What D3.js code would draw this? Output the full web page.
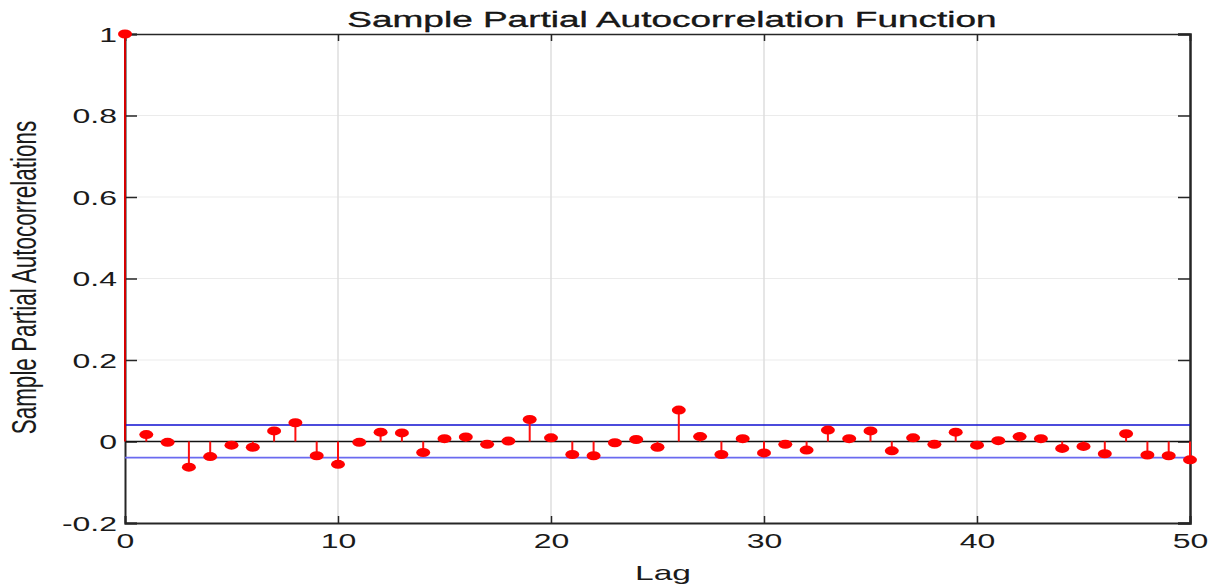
<!DOCTYPE html>
<html>
<head>
<meta charset="utf-8">
<script src="https://cdn.jsdelivr.net/npm/d3@7"></script>
<style>
  body { margin: 0; background: #fff; }
  text { font-family: "Liberation Sans", Arial, sans-serif; fill: #1a1a1a; }
</style>
</head>
<body>
<div id="chart"></div>
<script>
const WIDTH = 1224, HEIGHT = 585;
const margin = {top: 34, right: 34, bottom: 62, left: 125};
const STRETCH = 1.6; // the figure looks widened horizontally

// lags 0..50 and their partial autocorrelations
const lags = d3.range(0, 51);
const pacf = [1.0, 0.017, -0.002, -0.063, -0.037, -0.009, -0.014, 0.026, 0.046, -0.035,
  -0.056, -0.002, 0.023, 0.021, -0.027, 0.007, 0.011, -0.007, 0.001, 0.054,
  0.009, -0.032, -0.035, -0.003, 0.005, -0.014, 0.077, 0.012, -0.032, 0.007,
  -0.028, -0.007, -0.021, 0.028, 0.007, 0.026, -0.023, 0.009, -0.007, 0.023,
  -0.009, 0.002, 0.012, 0.007, -0.017, -0.012, -0.030, 0.019, -0.033, -0.035,
  -0.045];
const bounds = [0.0405, -0.0395];
const xTicks = [0, 10, 20, 30, 40, 50];
const yTicks = [-0.2, 0, 0.2, 0.4, 0.6, 0.8, 1];

const w = WIDTH - margin.left - margin.right;
const h = HEIGHT - margin.top - margin.bottom;

let svg = d3.select("#chart")
    .append("svg")
    .attr("width", WIDTH)
    .attr("height", HEIGHT)
    .append("g")
    .attr("transform", `translate(${margin.left}, ${margin.top})`);

let x = d3.scaleLinear().domain([0, 50]).range([0, w]);
let y = d3.scaleLinear().domain([-0.2, 1]).range([h, 0]);

// grid
svg.append("g").selectAll("line").data(yTicks.slice(2, 6)).enter()
    .append("line")
    .attr("x1", 0).attr("x2", w)
    .attr("y1", d => y(d)).attr("y2", d => y(d))
    .attr("stroke", "#ebebeb").attr("stroke-width", 1.2);
svg.append("g").selectAll("line").data(xTicks.slice(1, 5)).enter()
    .append("line")
    .attr("x1", d => x(d)).attr("x2", d => x(d))
    .attr("y1", 0).attr("y2", h)
    .attr("stroke", "#dedede").attr("stroke-width", 1.5);

// axes - plain hyphen for negatives like matlab
let fmt = d => String(+d.toFixed(1));
let xAxis = svg.append("g")
    .attr("transform", `translate(0, ${h})`)
    .call(d3.axisBottom(x).tickValues(xTicks).tickSize(-7).tickPadding(14).tickFormat(d => String(d)));
let xTop = svg.append("g")
    .call(d3.axisTop(x).tickValues(xTicks).tickSize(-7).tickFormat(""));
let yAxis = svg.append("g")
    .call(d3.axisLeft(y).tickValues(yTicks).tickSize(-12).tickPadding(5).tickFormat(fmt));
let yRight = svg.append("g")
    .attr("transform", `translate(${w}, 0)`)
    .call(d3.axisRight(y).tickValues(yTicks).tickSize(-12).tickFormat(""));

[xAxis, xTop, yAxis, yRight].forEach(a => {
    a.select(".domain").attr("stroke", "#262626").attr("stroke-width", 2);
    a.selectAll(".tick line").attr("stroke", "#262626").attr("stroke-width", 1.5);
    a.selectAll("text").style("font-size", "20px").attr("fill", "#262626")
        .style("font-family", "'Liberation Sans', Arial, sans-serif");
});
xTop.select(".domain").attr("stroke-width", 1.5);
yRight.select(".domain").attr("stroke-width", 2.5);
xAxis.selectAll("text").attr("transform", `scale(${STRETCH}, 1)`).attr("dy", "0.55em");
yAxis.selectAll("text").attr("transform", `scale(${STRETCH}, 1)`).attr("dy", "0.36em");

// confidence bounds and zero line
svg.append("line")
    .attr("x1", 0).attr("x2", w).attr("y1", y(bounds[0])).attr("y2", y(bounds[0]))
    .attr("stroke", "#0f0fd0").attr("stroke-width", 1.3);
svg.append("line")
    .attr("x1", 0).attr("x2", w).attr("y1", y(bounds[1])).attr("y2", y(bounds[1]))
    .attr("stroke", "#6a6af0").attr("stroke-width", 1.6);
svg.append("line")
    .attr("x1", 0).attr("x2", w).attr("y1", y(0)).attr("y2", y(0))
    .attr("stroke", "#111").attr("stroke-width", 1.3);

// stems and markers
let data = lags.map((l, i) => ({lag: l, v: pacf[i]}));
svg.append("g").selectAll("line").data(data).enter()
    .append("line")
    .attr("x1", d => x(d.lag)).attr("x2", d => x(d.lag))
    .attr("y1", y(0)).attr("y2", d => y(d.v))
    .attr("stroke", d => d.lag === 0 ? "#d40000" : "#ff1010")
    .attr("stroke-width", 2);
svg.append("g").selectAll("ellipse").data(data).enter()
    .append("ellipse")
    .attr("cx", d => x(d.lag)).attr("cy", d => y(d.v))
    .attr("rx", 7).attr("ry", 4.5)
    .attr("fill", "#ff0000");

// title
svg.append("text")
    .attr("transform", `translate(${672 - margin.left}, ${-7}) scale(1.72, 1)`)
    .style("text-anchor", "middle")
    .style("font-size", "21.5px")
    .attr("fill", "#000")
    .attr("stroke", "#000").attr("stroke-width", 0.3)
    .text("Sample Partial Autocorrelation Function");

// x label
svg.append("text")
    .attr("transform", `translate(${663 - margin.left}, ${h + 57}) scale(${STRETCH}, 1)`)
    .style("text-anchor", "middle")
    .style("font-size", "21px")
    .text("Lag");

// y label
svg.append("text")
    .attr("transform", `translate(${36 - margin.left}, ${h / 2 - 1}) scale(${STRETCH}, 1) rotate(-90)`)
    .style("text-anchor", "middle")
    .style("font-size", "22.5px")
    .text("Sample Partial Autocorrelations");
</script>
</body>
</html>
